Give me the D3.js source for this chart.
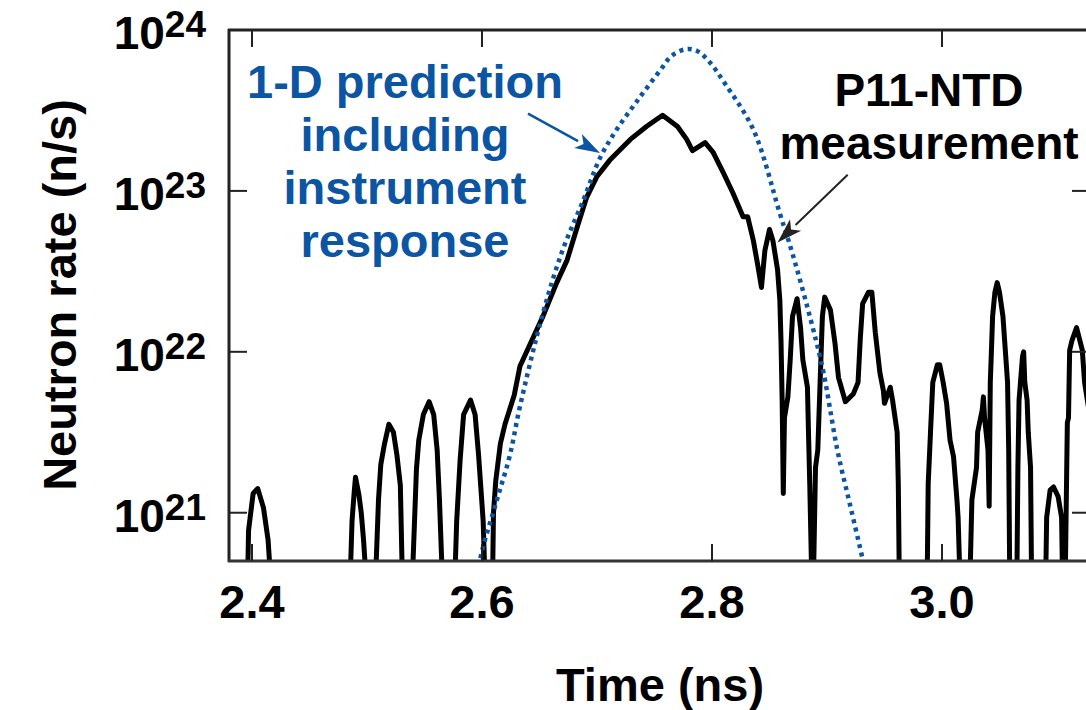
<!DOCTYPE html>
<html>
<head>
<meta charset="utf-8">
<script src="https://cdn.jsdelivr.net/npm/d3@7"></script>
<style>
  body { margin: 0; background: #fff; }
  svg { display: block; }
</style>
</head>
<body>
<div id="chart"></div>
<script>
var width = 1086;
var height = 710;

// P11-NTD measurement: time (ns) and log10 of neutron rate (n/s); 20.5 = off the bottom of the plot
var measTime = [2.380, 2.395, 2.396, 2.397, 2.401, 2.405, 2.410, 2.414, 2.417,
  2.484, 2.485, 2.487, 2.489, 2.490, 2.493, 2.495, 2.497, 2.500,
  2.507, 2.510, 2.512, 2.515, 2.519, 2.523, 2.526, 2.529, 2.531,
  2.539, 2.543, 2.545, 2.549, 2.554, 2.558, 2.561, 2.563, 2.566,
  2.576, 2.578, 2.581, 2.584, 2.590, 2.594, 2.597, 2.601, 2.603,
  2.609, 2.610, 2.612, 2.616, 2.620, 2.624, 2.628, 2.633, 2.642, 2.653, 2.665, 2.674, 2.683, 2.691,
  2.700, 2.711, 2.729, 2.743, 2.757, 2.770, 2.778, 2.783, 2.794, 2.801, 2.810, 2.818, 2.827, 2.831,
  2.836, 2.840, 2.843, 2.846, 2.850, 2.853, 2.857, 2.859, 2.860, 2.861, 2.862, 2.863, 2.866, 2.868,
  2.870, 2.874, 2.877, 2.879, 2.883, 2.884, 2.885, 2.887, 2.888, 2.890, 2.892, 2.894, 2.896, 2.898,
  2.903, 2.907, 2.910, 2.916, 2.923, 2.927, 2.929, 2.931, 2.936, 2.939, 2.942, 2.946, 2.949, 2.950,
  2.955, 2.957, 2.961, 2.962, 2.963,
  2.987, 2.988, 2.990, 2.992, 2.996, 2.998, 3.001, 3.004, 3.007, 3.010, 3.013, 3.014, 3.016,
  3.024, 3.026, 3.030, 3.031, 3.035, 3.036, 3.037, 3.040, 3.041, 3.042, 3.043, 3.044, 3.046, 3.048,
  3.050, 3.053, 3.057, 3.058, 3.059,
  3.065, 3.066, 3.067, 3.070, 3.071, 3.072, 3.074, 3.075, 3.077, 3.078,
  3.090, 3.091, 3.094, 3.097, 3.101, 3.104, 3.105,
  3.107, 3.109, 3.110, 3.111, 3.113, 3.117, 3.122, 3.124, 3.129];
var measLog = [20.5, 20.5, 20.5, 20.89, 21.12, 21.15, 21.03, 20.83, 20.5,
  20.5, 20.5, 20.95, 21.14, 21.22, 21.11, 21.00, 20.83, 20.5,
  20.5, 21.08, 21.30, 21.42, 21.55, 21.50, 21.36, 21.17, 20.5,
  20.5, 21.27, 21.45, 21.61, 21.69, 21.61, 21.39, 21.08, 20.5,
  20.5, 20.95, 21.33, 21.61, 21.70, 21.61, 21.36, 20.95, 20.5,
  20.5, 21.00, 21.20, 21.43, 21.55, 21.64, 21.73, 21.91, 22.05, 22.22, 22.43, 22.57, 22.78, 22.96,
  23.09, 23.19, 23.32, 23.40, 23.47, 23.40, 23.32, 23.25, 23.30, 23.24, 23.11, 22.99, 22.84, 22.84,
  22.69, 22.53, 22.40, 22.63, 22.76, 22.69, 22.51, 22.32, 22.07, 21.70, 21.12, 21.59, 21.72, 21.95,
  22.22, 22.33, 22.15, 21.95, 21.78, 21.47, 21.18, 20.5, 20.5, 21.28, 21.39, 21.81, 22.22, 22.34,
  22.26, 22.05, 21.84, 21.69, 21.74, 21.81, 22.09, 22.30, 22.37, 22.37, 22.12, 21.87, 21.76, 21.68,
  21.78, 21.70, 21.50, 21.18, 20.5,
  20.5, 21.18, 21.50, 21.81, 21.92, 21.92, 21.81, 21.68, 21.45, 21.35, 21.08, 20.97, 20.5,
  20.5, 21.08, 21.28, 21.50, 21.64, 21.72, 21.59, 21.39, 21.04, 21.81, 22.01, 22.22, 22.37, 22.43,
  22.37, 22.22, 21.81, 21.39, 20.5,
  20.5, 21.28, 21.70, 21.97, 22.00, 21.81, 21.70, 21.50, 21.28, 20.5,
  20.5, 20.97, 21.14, 21.16, 21.10, 20.97, 20.5,
  20.5, 21.56, 21.59, 22.01, 22.07, 22.15, 22.01, 21.81, 21.58];

// 1-D prediction including instrument response
var predTime = [2.590, 2.598, 2.613, 2.624, 2.633, 2.653, 2.670, 2.688, 2.703, 2.717, 2.735,
  2.755, 2.765, 2.777, 2.787, 2.798, 2.811, 2.836, 2.859, 2.870, 2.888, 2.897, 2.909, 2.920, 2.931, 2.937];
var predLog = [20.30, 20.70, 21.08, 21.35, 21.66, 22.24, 22.63, 22.94, 23.21, 23.38, 23.56,
  23.75, 23.84, 23.88, 23.87, 23.80, 23.67, 23.38, 22.86, 22.61, 22.14, 21.87, 21.39, 21.05, 20.71, 20.50];

var xTicks = [2.4, 2.6, 2.8, 3.0];
var yTickExps = [21, 22, 23, 24];

var blue = "#0b55a3";
var font = "'Liberation Sans', Arial, Helvetica, sans-serif";

var svg = d3.select("#chart")
    .append("svg")
    .attr("width", width)
    .attr("height", height);

var x = d3.scaleLinear().domain([2.38, 3.13]).range([229, 1091.5]);
var y = d3.scaleLog().domain([Math.pow(10, 20.7), 1e24]).range([561, 30]);

svg.append("defs").append("clipPath")
    .attr("id", "plotClip")
    .append("rect")
    .attr("x", 229)
    .attr("y", 30)
    .attr("width", 870)
    .attr("height", 531);

var meas = measTime.map(function(t, i) { return [t, Math.pow(10, measLog[i])]; });
var pred = predTime.map(function(t, i) { return [t, Math.pow(10, predLog[i])]; });

var line = d3.line()
    .x(function(d) { return x(d[0]); })
    .y(function(d) { return y(d[1]); });

var plot = svg.append("g").attr("clip-path", "url(#plotClip)");

plot.append("path")
    .datum(meas)
    .attr("d", line)
    .attr("fill", "none")
    .attr("stroke", "#000")
    .attr("stroke-width", 5)
    .attr("stroke-linejoin", "round");

plot.append("path")
    .datum(pred)
    .attr("d", d3.line().curve(d3.curveCatmullRom)
        .x(function(d) { return x(d[0]); })
        .y(function(d) { return y(d[1]); }))
    .attr("fill", "none")
    .attr("stroke", blue)
    .attr("stroke-width", 4.5)
    .attr("stroke-dasharray", "4,4.5");

// axes box (right side is beyond the picture)
var axisColor = "#222";
svg.append("line").attr("x1", 229).attr("x2", 229).attr("y1", 29).attr("y2", 562)
    .attr("stroke", axisColor).attr("stroke-width", 3);
svg.append("line").attr("x1", 228).attr("x2", width).attr("y1", 30).attr("y2", 30)
    .attr("stroke", axisColor).attr("stroke-width", 3);
svg.append("line").attr("x1", 228).attr("x2", width).attr("y1", 561).attr("y2", 561)
    .attr("stroke", "#333").attr("stroke-width", 3);

var ticks = svg.append("g").attr("stroke", axisColor).attr("stroke-width", 2);

xTicks.forEach(function(t) {
    ticks.append("line").attr("x1", x(t)).attr("x2", x(t)).attr("y1", 30).attr("y2", 47);
    ticks.append("line").attr("x1", x(t)).attr("x2", x(t)).attr("y1", 561).attr("y2", 544);
});
yTickExps.forEach(function(e) {
    var v = Math.pow(10, e);
    ticks.append("line").attr("x1", 229).attr("x2", 247).attr("y1", y(v)).attr("y2", y(v));
    ticks.append("line").attr("x1", 1072).attr("x2", 1091).attr("y1", y(v)).attr("y2", y(v));
});

svg.selectAll(".xlab")
    .data(xTicks)
    .enter().append("text")
    .attr("class", "xlab")
    .attr("x", function(d) { return x(d); })
    .attr("y", 618)
    .text(function(d) { return d.toFixed(1); })
    .style("text-anchor", "middle")
    .style("font-family", font)
    .style("font-weight", "bold")
    .style("font-size", "47px");

var ylab = svg.selectAll(".ylab")
    .data(yTickExps)
    .enter().append("text")
    .attr("class", "ylab")
    .attr("x", 206)
    .attr("y", function(d) { return y(Math.pow(10, d)) + 19; })
    .style("text-anchor", "end")
    .style("font-family", font)
    .style("font-weight", "bold")
    .style("font-size", "46px");
ylab.append("tspan").text("10");
ylab.append("tspan")
    .attr("dy", -12)
    .style("font-size", "37px")
    .text(function(d) { return d; });

svg.append("text")
    .attr("x", 660)
    .attr("y", 701)
    .text("Time (ns)")
    .style("text-anchor", "middle")
    .style("font-family", font)
    .style("font-weight", "bold")
    .style("font-size", "47px");

svg.append("text")
    .attr("transform", "translate(76,295) rotate(-90)")
    .text("Neutron rate (n/s)")
    .style("text-anchor", "middle")
    .style("font-family", font)
    .style("font-weight", "bold")
    .style("font-size", "47px");

// annotations
var blueLines = ["1-D prediction", "including", "instrument", "response"];
svg.selectAll(".bluelab")
    .data(blueLines)
    .enter().append("text")
    .attr("class", "bluelab")
    .attr("x", 405)
    .attr("y", function(d, i) { return 98 + i * 53; })
    .text(function(d) { return d; })
    .style("text-anchor", "middle")
    .style("fill", blue)
    .style("font-family", font)
    .style("font-weight", "bold")
    .style("font-size", "47px");

var blackLines = ["P11-NTD", "measurement"];
svg.selectAll(".blacklab")
    .data(blackLines)
    .enter().append("text")
    .attr("class", "blacklab")
    .attr("x", 929)
    .attr("y", function(d, i) { return 106 + i * 53; })
    .text(function(d) { return d; })
    .style("text-anchor", "middle")
    .style("fill", "#000")
    .style("font-family", font)
    .style("font-weight", "bold")
    .style("font-size", "46px");

function arrow(t0, v0, t1, v1, color, w, headLen, headW) {
    var x0 = x(t0), y0 = y(Math.pow(10, v0));
    var x1 = x(t1), y1 = y(Math.pow(10, v1));
    var ang = Math.atan2(y1 - y0, x1 - x0);
    var bx = x1 - headLen * Math.cos(ang), by = y1 - headLen * Math.sin(ang);
    svg.append("line")
        .attr("x1", x0).attr("y1", y0).attr("x2", bx).attr("y2", by)
        .attr("stroke", color).attr("stroke-width", w);
    var px = -Math.sin(ang) * headW, py = Math.cos(ang) * headW;
    svg.append("path")
        .attr("d", "M" + x1 + "," + y1 + "L" + (bx + px) + "," + (by + py) +
            "L" + (bx + headLen * 0.25 * Math.cos(ang)) + "," + (by + headLen * 0.25 * Math.sin(ang)) +
            "L" + (bx - px) + "," + (by - py) + "Z")
        .attr("fill", color);
}

arrow(2.640, 23.48, 2.7026, 23.235, blue, 2.5, 25, 8);
arrow(2.918, 23.10, 2.857, 22.68, "#222", 2, 25, 8);
</script>
</body>
</html>
